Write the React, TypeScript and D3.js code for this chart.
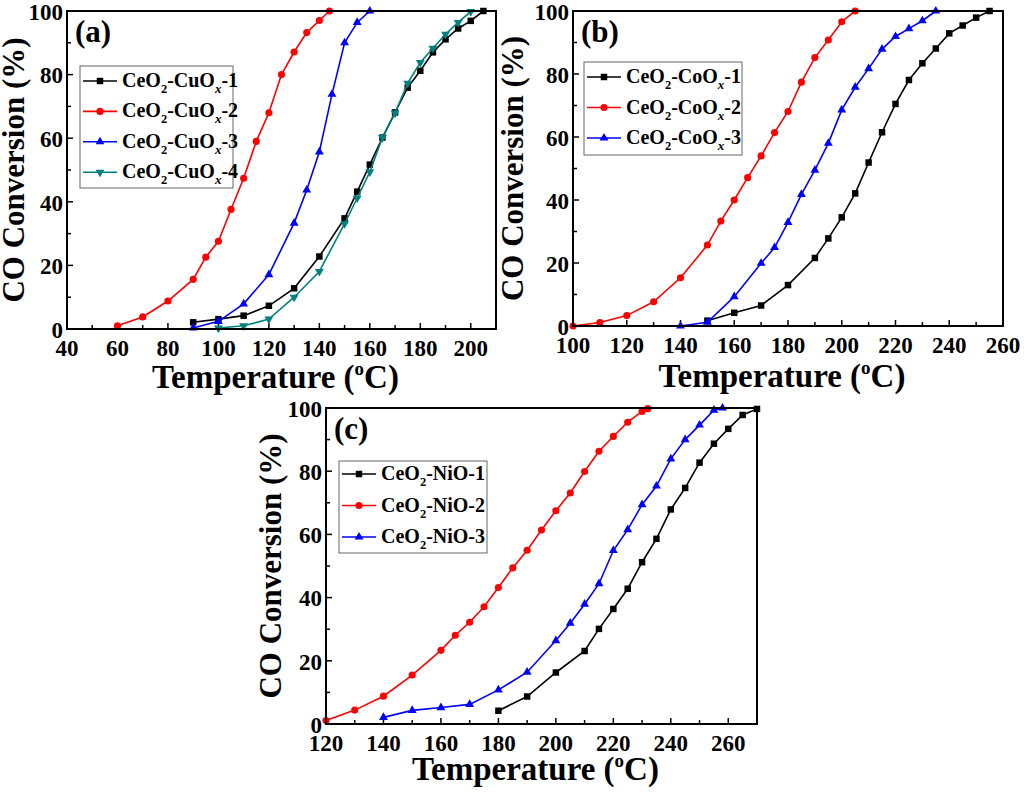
import React, { useEffect, useRef } from "react";
import * as d3 from "d3";

// panel (a) CeO2-CuOx
const tempA1 = [90, 100, 110, 120, 130, 140, 150, 155, 160, 165, 170, 175, 180, 185, 190, 195, 200, 205];
const convA1 = [2.1, 3.1, 4.2, 7.3, 12.8, 22.8, 34.8, 43.2, 51.7, 60.2, 68.1, 75.9, 81.2, 87, 91.1, 94.5, 96.9, 100];
const tempA2 = [60, 70, 80, 90, 95, 100, 105, 110, 115, 120, 125, 130, 135, 140, 144];
const convA2 = [1.0, 3.8, 8.8, 15.6, 22.6, 27.6, 37.6, 47.4, 59, 68, 80, 87.1, 93.2, 97, 100];
const tempA3 = [90, 100, 110, 120, 130, 135, 140, 145, 150, 155, 160];
const convA3 = [0.3, 2.4, 7.9, 17.1, 33.3, 43.7, 55.7, 73.8, 90, 96.4, 100];
const tempA4 = [100, 110, 120, 130, 140, 150, 155, 160, 165, 170, 175, 180, 185, 190, 195, 200];
const convA4 = [0.3, 1, 3.1, 10, 18.1, 33.1, 41.2, 49.4, 60.2, 67.9, 77.3, 83.8, 88.3, 92.7, 96.4, 99.8];

// panel (b) CeO2-CoOx
const tempB1 = [150, 160, 170, 180, 190, 195, 200, 205, 210, 215, 220, 225, 230, 235, 240, 245, 250, 255];
const convB1 = [1.7, 4.2, 6.5, 13, 21.6, 27.8, 34.5, 42.1, 51.9, 61.5, 70.5, 78.1, 83.4, 88.1, 92.9, 95.4, 97.9, 100];
const tempB2 = [100, 110, 120, 130, 140, 150, 155, 160, 165, 170, 175, 180, 185, 190, 195, 200, 205];
const convB2 = [0, 1.1, 3.3, 7.7, 15.3, 25.7, 33.3, 40, 47.1, 54, 61.4, 68.1, 77.4, 85.2, 90.8, 96.6, 100];
const tempB3 = [140, 150, 160, 170, 175, 180, 185, 190, 195, 200, 205, 210, 215, 220, 225, 230, 235];
const convB3 = [0, 1.2, 9.3, 19.9, 24.9, 32.9, 41.8, 49.5, 58, 68.6, 75.8, 81.7, 87.9, 91.9, 94.4, 96.9, 100];

// panel (c) CeO2-NiO
const tempC1 = [180, 190, 200, 210, 215, 220, 225, 230, 235, 240, 245, 250, 255, 260, 265, 270];
const convC1 = [4.2, 8.7, 16.3, 23.1, 30.1, 36.4, 42.8, 51.2, 58.6, 67.9, 74.7, 82.7, 88.7, 93.4, 97.8, 99.7];
const tempC2 = [120, 130, 140, 150, 160, 165, 170, 175, 180, 185, 190, 195, 200, 205, 210, 215, 220, 225, 230, 232];
const convC2 = [1.1, 4.4, 8.8, 15.5, 23.3, 28.1, 32.2, 37.1, 43.2, 49.4, 55, 61.4, 67.5, 73.1, 79.9, 86.3, 91, 95.5, 98.9, 99.8];
const tempC3 = [140, 150, 160, 170, 180, 190, 200, 205, 210, 215, 220, 225, 230, 235, 240, 245, 250, 255, 258];
const convC3 = [2.1, 4.3, 5.2, 6.2, 10.8, 16.4, 26.4, 31.9, 37.9, 44.4, 54.9, 61.5, 69.4, 75.3, 83.9, 90, 94.6, 99.3, 100];

const yTicks = [0, 20, 40, 60, 80, 100];
const suffixes = ["-1", "-2", "-3", "-4"];
const colors = ["#000000", "#ff0000", "#0000ff", "#008080"];
const symbols = ["square", "circle", "triangle", "triangleDown"];

const FONT = "Liberation Serif, Times New Roman, Times, serif";

type Panel = {
  label: string;
  box: { left: number; right: number; top: number; bottom: number };
  xDomain: [number, number];
  xTicks: number[];
  metal: string;
  sub: boolean;
  series: { t: number[]; c: number[] }[];
  legend: { x: number; y: number; w: number; h: number; row0: number; gap: number };
  yTitleOff: number;
  xTitleOff: number;
};

const panels: Panel[] = [
  {
    label: "(a)",
    box: { left: 67, right: 496, top: 11, bottom: 329 },
    xDomain: [40, 210],
    xTicks: [40, 60, 80, 100, 120, 140, 160, 180, 200],
    metal: "CuO",
    sub: true,
    series: [
      { t: tempA1, c: convA1 },
      { t: tempA2, c: convA2 },
      { t: tempA3, c: convA3 },
      { t: tempA4, c: convA4 },
    ],
    legend: { x: 80, y: 66, w: 153, h: 122, row0: 81, gap: 30.4 },
    yTitleOff: 43,
    xTitleOff: 59,
  },
  {
    label: "(b)",
    box: { left: 573, right: 1003, top: 11, bottom: 326 },
    xDomain: [100, 260],
    xTicks: [100, 120, 140, 160, 180, 200, 220, 240, 260],
    metal: "CoO",
    sub: true,
    series: [
      { t: tempB1, c: convB1 },
      { t: tempB2, c: convB2 },
      { t: tempB3, c: convB3 },
    ],
    legend: { x: 584, y: 62, w: 158, h: 93, row0: 77, gap: 30.5 },
    yTitleOff: 50,
    xTitleOff: 61,
  },
  {
    label: "(c)",
    box: { left: 326, right: 757, top: 408, bottom: 724 },
    xDomain: [120, 270],
    xTicks: [120, 140, 160, 180, 200, 220, 240, 260],
    metal: "NiO",
    sub: false,
    series: [
      { t: tempC1, c: convC1 },
      { t: tempC2, c: convC2 },
      { t: tempC3, c: convC3 },
    ],
    legend: { x: 339, y: 461, w: 148, h: 92, row0: 474, gap: 31.5 },
    yTitleOff: 45,
    xTitleOff: 56,
  },
];

function symbolPath(kind: string) {
  if (kind === "square") return d3.symbol(d3.symbolSquare, 42)();
  if (kind === "circle") return d3.symbol(d3.symbolCircle, 40)();
  return d3.symbol(d3.symbolTriangle, 34)();
}

const App: React.FC = () => {
  const ref = useRef<SVGSVGElement>(null);

  useEffect(() => {
    const svg = d3.select(ref.current);
    svg.selectAll("*").remove();

    panels.forEach((p) => {
      const { left, right, top, bottom } = p.box;
      const x = d3.scaleLinear().domain(p.xDomain).range([left, right]);
      const y = d3.scaleLinear().domain([0, 100]).range([bottom, top]);
      const g = svg.append("g");

      // minor + major ticks, inward
      const xMinor = d3.range(p.xDomain[0], p.xDomain[1] + 0.1, 10);
      g.selectAll(".xt")
        .data(xMinor)
        .enter()
        .append("line")
        .attr("x1", (d) => x(d))
        .attr("x2", (d) => x(d))
        .attr("y1", bottom)
        .attr("y2", (d) => bottom - (p.xTicks.includes(d) ? 6 : 4))
        .attr("stroke", "#000")
        .attr("stroke-width", 1.5);
      g.selectAll(".yt")
        .data(d3.range(0, 101, 10))
        .enter()
        .append("line")
        .attr("x1", left)
        .attr("x2", (d) => left + (yTicks.includes(d) ? 6 : 4))
        .attr("y1", (d) => y(d))
        .attr("y2", (d) => y(d))
        .attr("stroke", "#000")
        .attr("stroke-width", 1.5);

      // tick labels
      g.selectAll(".xl")
        .data(p.xTicks)
        .enter()
        .append("text")
        .attr("x", (d) => x(d))
        .attr("y", bottom + 27)
        .attr("text-anchor", "middle")
        .attr("font-family", FONT)
        .attr("font-weight", "bold")
        .attr("font-size", 23)
        .text((d) => d);
      g.selectAll(".yl")
        .data(yTicks)
        .enter()
        .append("text")
        .attr("x", left - 4)
        .attr("y", (d) => y(d))
        .attr("dy", "0.38em")
        .attr("text-anchor", "end")
        .attr("font-family", FONT)
        .attr("font-weight", "bold")
        .attr("font-size", 23)
        .text((d) => d);

      // axis titles
      const xt = g
        .append("text")
        .attr("x", (left + right) / 2 - 6)
        .attr("y", bottom + p.xTitleOff)
        .attr("text-anchor", "middle")
        .attr("font-family", FONT)
        .attr("font-weight", "bold")
        .attr("font-size", 33);
      xt.append("tspan").text("Temperature (");
      xt.append("tspan").attr("font-size", 19).attr("dy", -13).text("o");
      xt.append("tspan").attr("dy", 13).text("C)");

      g.append("text")
        .attr("transform", `translate(${left - p.yTitleOff},${(top + bottom) / 2}) rotate(-90)`)
        .attr("text-anchor", "middle")
        .attr("font-family", FONT)
        .attr("font-weight", "bold")
        .attr("font-size", 31)
        .text("CO Conversion (%)");

      // series
      const line = d3
        .line<[number, number]>()
        .x((d) => x(d[0]))
        .y((d) => y(d[1]));
      p.series.forEach((s, i) => {
        const pts = s.t.map((t, k) => [t, s.c[k]] as [number, number]);
        g.append("path")
          .attr("d", line(pts))
          .attr("fill", "none")
          .attr("stroke", colors[i])
          .attr("stroke-width", 1.6);
        g.selectAll(`.m${i}`)
          .data(pts)
          .enter()
          .append("path")
          .attr("d", symbolPath(symbols[i]))
          .attr("transform", (d) =>
            `translate(${x(d[0])},${y(d[1])})` + (symbols[i] === "triangleDown" ? " rotate(180)" : "")
          )
          .attr("fill", colors[i]);
      });

      // frame
      g.append("rect")
        .attr("x", left)
        .attr("y", top)
        .attr("width", right - left)
        .attr("height", bottom - top)
        .attr("fill", "none")
        .attr("stroke", "#000")
        .attr("stroke-width", 2);

      // panel label
      g.append("text")
        .attr("x", left + 8)
        .attr("y", top + 31)
        .attr("font-family", FONT)
        .attr("font-weight", "bold")
        .attr("font-size", 31)
        .text(p.label);

      // legend
      const L = p.legend;
      g.append("rect")
        .attr("x", L.x)
        .attr("y", L.y)
        .attr("width", L.w)
        .attr("height", L.h)
        .attr("fill", "#fff")
        .attr("stroke", "#666")
        .attr("stroke-width", 1);
      p.series.forEach((_, i) => {
        const ry = L.row0 + i * L.gap;
        g.append("line")
          .attr("x1", L.x + 3)
          .attr("x2", L.x + 37)
          .attr("y1", ry)
          .attr("y2", ry)
          .attr("stroke", colors[i])
          .attr("stroke-width", 1.6);
        g.append("path")
          .attr("d", symbolPath(symbols[i]))
          .attr("transform", `translate(${L.x + 20},${ry})` + (symbols[i] === "triangleDown" ? " rotate(180)" : ""))
          .attr("fill", colors[i]);
        const t = g
          .append("text")
          .attr("x", L.x + 42)
          .attr("y", ry + 6)
          .attr("font-family", FONT)
          .attr("font-weight", "bold")
          .attr("font-size", 20);
        t.append("tspan").text("CeO");
        t.append("tspan").attr("font-size", 12.5).attr("dy", 6).text("2");
        t.append("tspan").attr("dy", -6).text("-" + p.metal);
        if (p.sub) {
          t.append("tspan").attr("font-size", 13).attr("font-style", "italic").attr("dy", 6).text("x");
          t.append("tspan").attr("dy", -6).text(suffixes[i]);
        } else {
          t.append("tspan").text(suffixes[i]);
        }
      });
    });
  }, []);

  return (
    <svg
      ref={ref}
      width={1024}
      height={795}
      style={{ position: "absolute", left: 0, top: 0, background: "#fff" }}
    />
  );
};

export default App;
